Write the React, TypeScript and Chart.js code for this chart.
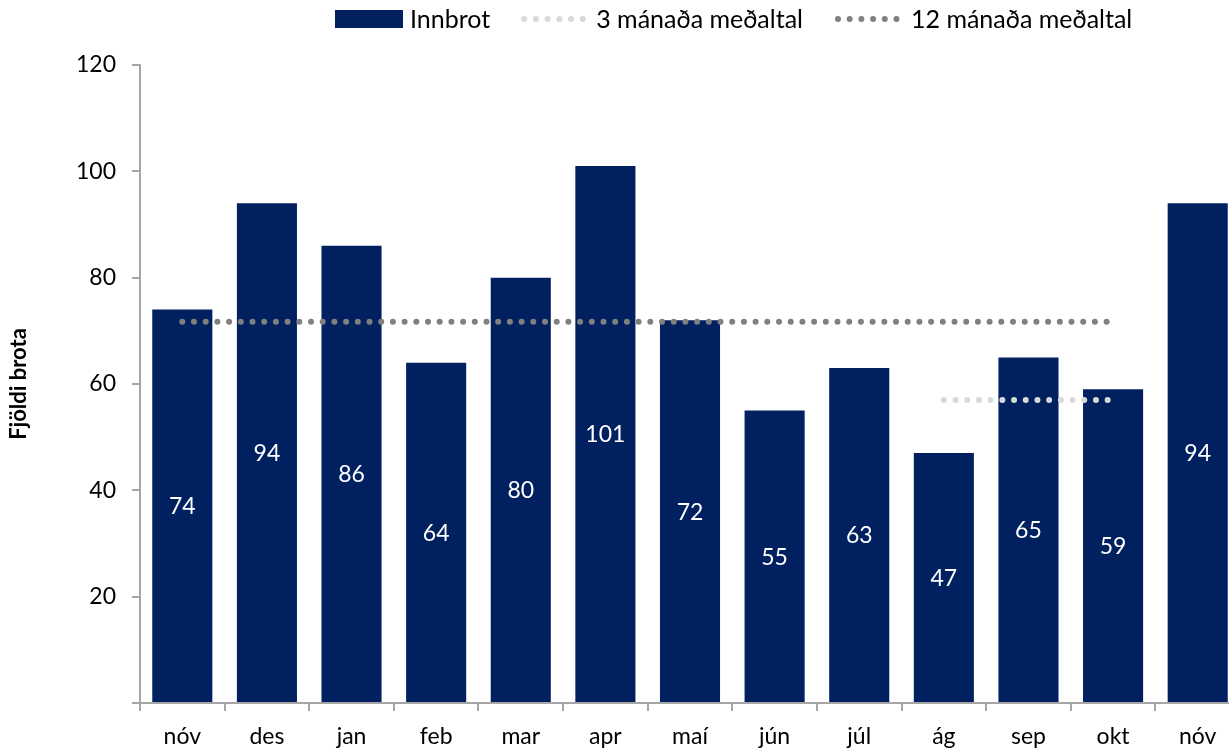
import React, { useEffect, useRef } from "react";
import { Chart, registerables } from "chart.js";

Chart.register(...registerables);

const categories = ["nóv", "des", "jan", "feb", "mar", "apr", "maí", "jún", "júl", "ág", "sep", "okt", "nóv"];
const innbrot = [74, 94, 86, 64, 80, 101, 72, 55, 63, 47, 65, 59, 94];
const avg3 = [null, null, null, null, null, null, null, null, null, 57, 57, 57, null];
const avg12 = [71.7, 71.7, 71.7, 71.7, 71.7, 71.7, 71.7, 71.7, 71.7, 71.7, 71.7, 71.7, null];
const yTicks = [0, 20, 40, 60, 80, 100, 120];

const seriesNames = ["Innbrot", "3 mánaða meðaltal", "12 mánaða meðaltal"];
const yTitle = "Fjöldi brota";

const NAVY = "#002060";
const LIGHT = "#D9D9D9";
const DARK = "#808080";
const AXIS = "#A6A6A6";
const FONT = "Lato, 'Open Sans', sans-serif";

const DOT_DASH = [0, 11.7];

const valueLabels = {
  id: "valueLabels",
  afterDatasetsDraw(chart: any) {
    const meta = chart.getDatasetMeta(0);
    const ctx = chart.ctx;
    ctx.save();
    ctx.font = `23px ${FONT}`;
    ctx.fillStyle = "#FFFFFF";
    ctx.textAlign = "center";
    ctx.textBaseline = "middle";
    meta.data.forEach((bar: any, i: number) => {
      const v = chart.data.datasets[0].data[i];
      ctx.fillText(String(v), bar.x, (bar.y + bar.base) / 2 + 1);
    });
    ctx.restore();
  },
};

const customLegend = {
  id: "customLegend",
  afterDraw(chart: any) {
    const ctx = chart.ctx;
    ctx.save();
    ctx.font = `25px ${FONT}`;
    ctx.textBaseline = "middle";
    ctx.fillStyle = "#000";
    const y = 19;
    let x = 335;
    ctx.fillStyle = NAVY;
    ctx.fillRect(x, 10, 68, 18);
    x += 68 + 7;
    ctx.fillStyle = "#000";
    ctx.fillText(seriesNames[0], x, y + 1);
    x += ctx.measureText(seriesNames[0]).width + 31;
    const drawDots = (color: string, xs: number) => {
      ctx.save();
      ctx.strokeStyle = color;
      ctx.lineWidth = 6;
      ctx.lineCap = "round";
      ctx.setLineDash(DOT_DASH);
      ctx.beginPath();
      ctx.moveTo(xs + 3, y);
      ctx.lineTo(xs + 66, y);
      ctx.stroke();
      ctx.restore();
    };
    drawDots(LIGHT, x);
    x += 68 + 7;
    ctx.fillStyle = "#000";
    ctx.fillText(seriesNames[1], x, y + 1);
    x += ctx.measureText(seriesNames[1]).width + 32;
    drawDots(DARK, x);
    x += 68 + 8;
    ctx.fillStyle = "#000";
    ctx.fillText(seriesNames[2], x, y + 1);
    ctx.restore();
  },
};

export default function App() {
  const ref = useRef<HTMLCanvasElement>(null);
  useEffect(() => {
    if (!ref.current) return;
    const chart = new Chart(ref.current, {
      type: "bar",
      data: {
        labels: categories,
        datasets: [
          {
            type: "bar",
            label: seriesNames[0],
            data: innbrot,
            backgroundColor: NAVY,
            barPercentage: 0.71,
            categoryPercentage: 1,
            order: 3,
          },
          {
            type: "line",
            label: seriesNames[1],
            data: avg3 as any,
            borderColor: LIGHT,
            borderWidth: 6,
            borderDash: DOT_DASH,
            borderCapStyle: "round",
            pointRadius: 0,
            spanGaps: false,
            order: 1,
          } as any,
          {
            type: "line",
            label: seriesNames[2],
            data: avg12 as any,
            borderColor: DARK,
            borderWidth: 6,
            borderDash: DOT_DASH,
            borderCapStyle: "round",
            pointRadius: 0,
            spanGaps: false,
            order: 2,
          } as any,
        ],
      },
      options: {
        responsive: false,
        animation: false,
        devicePixelRatio: 1,
        layout: { padding: { top: 65, right: 20, left: 0, bottom: 0 } },
        plugins: {
          legend: { display: false },
          tooltip: { enabled: false },
        },
        scales: {
          x: {
            offset: true,
            grid: {
              offset: true,
              drawOnChartArea: false,
              drawTicks: true,
              tickLength: 8,
              color: AXIS,
              lineWidth: 2,
            },
            border: { display: true, color: AXIS, width: 2 },
            ticks: {
              color: "#000",
              font: { family: FONT, size: 23 },
              padding: 12,
              maxRotation: 0,
              autoSkip: false,
            },
            afterFit: (s: any) => {
              s.height = 47;
            },
          },
          y: {
            min: 0,
            max: 120,
            afterBuildTicks: (s: any) => {
              s.ticks = yTicks.map((v) => ({ value: v }));
            },
            grid: {
              drawOnChartArea: false,
              drawTicks: true,
              tickLength: 8,
              color: AXIS,
              lineWidth: 2,
            },
            border: { display: true, color: AXIS, width: 2 },
            ticks: {
              color: "#000",
              font: { family: FONT, size: 23 },
              padding: 16,
              callback: (v: any) => (v === 0 ? "" : String(v)),
            },
            title: {
              display: true,
              text: yTitle,
              color: "#000",
              font: { family: FONT, size: 22, weight: "bold" },
              padding: { top: 6, bottom: 0 },
            },
            afterFit: (s: any) => {
              s.width = 140;
            },
          },
        },
      },
      plugins: [valueLabels, customLegend],
    });
    return () => chart.destroy();
  }, []);
  return (
    <div
      style={{
        position: "fixed",
        left: 0,
        top: 0,
        width: 1229,
        height: 750,
        overflow: "hidden",
        background: "#fff",
      }}
    >
      <canvas ref={ref} width={1260} height={750} style={{ display: "block" }} />
    </div>
  );
}
